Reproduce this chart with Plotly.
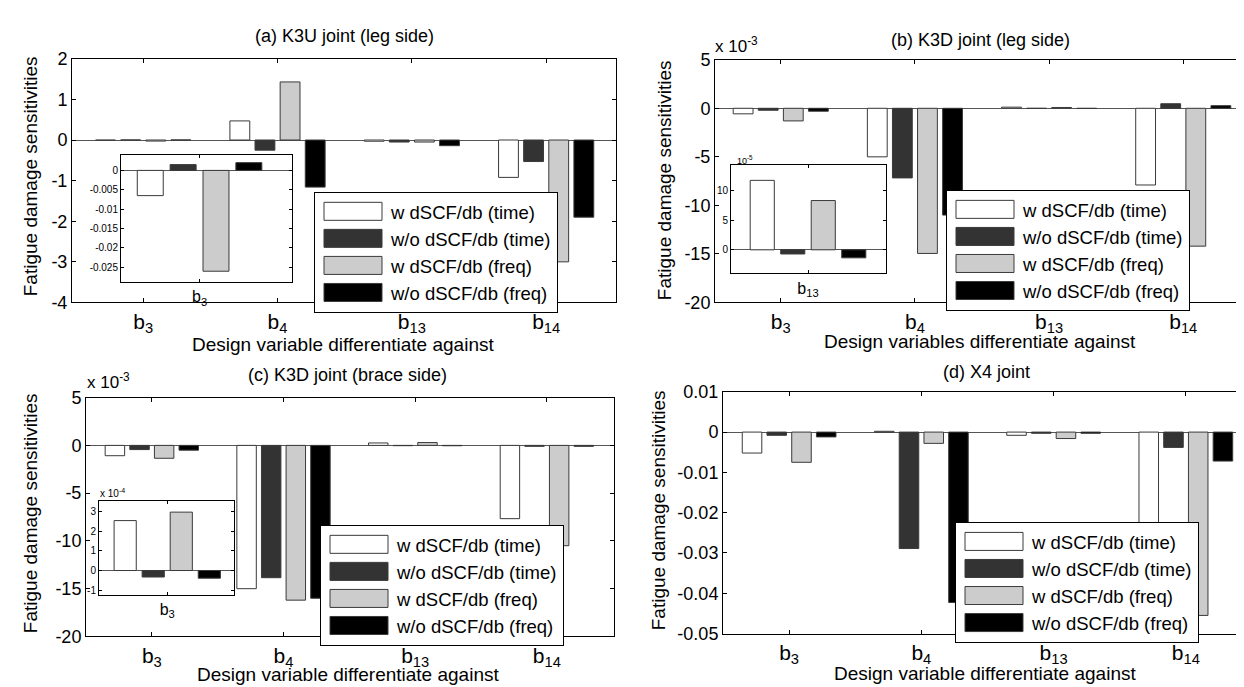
import plotly.graph_objects as go

W, H = 1244, 687
FONT = "Liberation Sans, Arial, Helvetica, sans-serif"

# ---------------- data ----------------
categories = ["b3", "b4", "b13", "b14"]
cat_labels = ["b<sub>3</sub>", "b<sub>4</sub>", "b<sub>13</sub>", "b<sub>14</sub>"]
series_names = ["w dSCF/db (time)", "w/o dSCF/db (time)", "w dSCF/db (freq)", "w/o dSCF/db (freq)"]
series_colors = ["#ffffff", "#333333", "#cccccc", "#000000"]

# (a) K3U joint (leg side)
a_w_time = [-0.0065, 0.47, -0.03, -0.92]
a_wo_time = [0.0015, -0.25, -0.05, -0.53]
a_w_freq = [-0.026, 1.43, -0.05, -3.0]
a_wo_freq = [0.002, -1.16, -0.14, -1.9]

# (b) K3D joint (leg side), in units of 1e-3
b_w_time = [-0.57, -5.0, 0.117, -7.9]
b_wo_time = [-0.2, -7.17, -0.007, 0.47]
b_w_freq = [-1.3, -14.95, 0.083, -14.2]
b_wo_freq = [-0.3, -11.0, -0.0135, 0.27]

# (c) K3D joint (brace side), in units of 1e-3
c_w_time = [-1.08, -15.0, 0.254, -7.67]
c_wo_time = [-0.44, -13.85, -0.033, -0.1]
c_w_freq = [-1.35, -16.2, 0.297, -10.5]
c_wo_freq = [-0.5, -16.0, -0.039, -0.1]

# (d) X4 joint
d_w_time = [-0.0052, 0.0002, -0.0008, -0.0227]
d_wo_time = [-0.0008, -0.0289, -0.0003, -0.0038]
d_w_freq = [-0.0075, -0.0028, -0.0016, -0.0455]
d_wo_freq = [-0.0012, -0.0423, -0.0003, -0.0072]

# y tick labels
a_ticks = [2, 1, 0, -1, -2, -3, -4]
bc_ticks = [5, 0, -5, -10, -15, -20]
d_ticks = [0.01, 0, -0.01, -0.02, -0.03, -0.04, -0.05]
d_ticktext = ["0.01", "0", "-0.01", "-0.02", "-0.03", "-0.04", "-0.05"]
ia_ticks = [0, -0.005, -0.01, -0.015, -0.02, -0.025]
ia_ticktext = ["0", "-0.005", "-0.01", "-0.015", "-0.02", "-0.025"]
ib_ticks = [0, 5, 10]
ic_ticks = [-1, 0, 1, 2, 3]

# ---------------- helpers ----------------
def xd(x0, x1):
    return [x0 / W, x1 / W]

def yd(y0, y1):
    return [1 - y1 / H, 1 - y0 / H]

def lab(v):
    return "%g" % v

fig = go.Figure()

panels = [
    (1, [a_w_time, a_wo_time, a_w_freq, a_wo_freq], "legend"),
    (2, [b_w_time, b_wo_time, b_w_freq, b_wo_freq], "legend2"),
    (3, [c_w_time, c_wo_time, c_w_freq, c_wo_freq], "legend3"),
    (4, [d_w_time, d_wo_time, d_w_freq, d_wo_freq], "legend4"),
]
for n, series, leg in panels:
    sfx = "" if n == 1 else str(n)
    for name, vals, col in zip(series_names, series, series_colors):
        fig.add_trace(go.Bar(
            x=categories, y=vals, name=name,
            marker=dict(color=col, line=dict(color="#3a3a3a", width=1)),
            xaxis="x" + sfx, yaxis="y" + sfx,
            legend=leg, showlegend=True, hoverinfo="skip",
        ))

# insets: (a) b3 group, (b) b13 group (x1e-5), (c) b13 group (x1e-4, labelled b3)
insets = [
    (5, [s[0] for s in (a_w_time, a_wo_time, a_w_freq, a_wo_freq)], ["b3"]),
    (6, [s[2] * 100 for s in (b_w_time, b_wo_time, b_w_freq, b_wo_freq)], ["b13"]),
    (7, [s[2] * 10 for s in (c_w_time, c_wo_time, c_w_freq, c_wo_freq)], ["b3"]),
]
for n, vals, cat in insets:
    for name, v, col in zip(series_names, vals, series_colors):
        fig.add_trace(go.Bar(
            x=cat, y=[v], name=name,
            marker=dict(color=col, line=dict(color="#3a3a3a", width=1)),
            xaxis="x%d" % n, yaxis="y%d" % n,
            showlegend=False, hoverinfo="skip",
        ))

axis_common = dict(
    showline=True, linecolor="black", linewidth=1, mirror="ticks",
    ticks="inside", ticklen=4, tickcolor="black", showgrid=False,
    tickfont=dict(family=FONT, color="black"),
)

main_boxes = {1: (64, 608, 42, 293), 2: (707, 1241, 43, 293),
              3: (78, 606, 391, 637), 4: (715, 1240, 385, 634)}
main_xr = {1: [-0.53, 3.52], 2: [-0.49, 3.49], 3: [-0.5, 3.51], 4: [-0.5, 3.47]}
main_y = {
    1: ([-4, 2], a_ticks, [lab(t) for t in a_ticks]),
    2: ([-20, 5], bc_ticks, [lab(t) for t in bc_ticks]),
    3: ([-20, 5], bc_ticks, [lab(t) for t in bc_ticks]),
    4: ([-0.05, 0.01], d_ticks, d_ticktext),
}

layout = dict(
    width=W, height=H, margin=dict(l=0, r=0, t=0, b=0),
    paper_bgcolor="white", plot_bgcolor="white",
    barmode="group", bargap=0.252, bargroupgap=0.21,
    font=dict(family=FONT, color="black"),
    showlegend=True,
)

for n, (x0, x1, y0, y1) in main_boxes.items():
    sfx = "" if n == 1 else str(n)
    rng, tv, tt = main_y[n]
    layout["xaxis" + sfx] = dict(axis_common, domain=xd(x0, x1), anchor="y" + sfx,
                                 range=main_xr[n], type="category",
                                 tickvals=categories, ticktext=cat_labels,
                                 tickfont=dict(family=FONT, size=21, color="black"),
                                 zeroline=False)
    layout["yaxis" + sfx] = dict(axis_common, domain=yd(y0, y1), anchor="x" + sfx,
                                 range=rng, tickvals=tv, ticktext=tt,
                                 tickfont=dict(family=FONT, size=18, color="black"),
                                 zeroline=True, zerolinecolor="#555555", zerolinewidth=1)

inset_boxes = {5: (113, 284, 141, 272), 6: (723, 878, 151, 263), 7: (91, 226, 497, 594)}
inset_xr = {5: [-0.447, 0.526], 6: [-0.472, 0.478], 7: [-0.455, 0.445]}
inset_y = {
    5: ([-0.0288, 0.004], ia_ticks, ia_ticktext),
    6: ([-3.96, 14.35], ib_ticks, [lab(t) for t in ib_ticks]),
    7: ([-1.23, 3.56], ic_ticks, [lab(t) for t in ic_ticks]),
}
inset_lab = {5: "b<sub>3</sub>", 6: "b<sub>13</sub>", 7: "b<sub>3</sub>"}
for n, (x0, x1, y0, y1) in inset_boxes.items():
    rng, tv, tt = inset_y[n]
    cat = insets[n - 5][2]
    layout["xaxis%d" % n] = dict(axis_common, domain=xd(x0, x1), anchor="y%d" % n,
                                 range=inset_xr[n], type="category",
                                 tickvals=cat, ticktext=[inset_lab[n]],
                                 tickfont=dict(family=FONT, size=16, color="black"),
                                 ticklen=3, zeroline=False)
    layout["yaxis%d" % n] = dict(axis_common, domain=yd(y0, y1), anchor="x%d" % n,
                                 range=rng, tickvals=tv, ticktext=tt,
                                 tickfont=dict(family=FONT, size=10, color="black"),
                                 ticklen=3,
                                 zeroline=True, zerolinecolor="#555555", zerolinewidth=1)

leg_pos = {"legend": (306, 179), "legend2": (938, 177), "legend3": (312, 522), "legend4": (947, 519)}
for key, (lx, ly) in leg_pos.items():
    layout[key] = dict(x=lx / W, y=1 - ly / H, xanchor="left", yanchor="top",
                       xref="paper", yref="paper",
                       bgcolor="white", bordercolor="black", borderwidth=1,
                       font=dict(family=FONT, size=18.5, color="black"),
                       itemwidth=66, tracegroupgap=0, traceorder="normal")

fig.update_layout(**layout)

def ann(text, x, y, size, angle=0, xanchor="center"):
    fig.add_annotation(text=text, x=x / W, y=1 - y / H, xref="paper", yref="paper",
                       showarrow=False, xanchor=xanchor, yanchor="middle",
                       textangle=angle, font=dict(family=FONT, size=size, color="black"))

titles = [("(a) K3U joint (leg side)", 336, 19), ("(b) K3D joint (leg side)", 972, 23),
          ("(c) K3D joint (brace side)", 339, 368), ("(d) X4 joint", 978, 365)]
for t, x, y in titles:
    ann(t, x, y, 18)

xtitles = [("Design variable differentiate against", 335, 336),
           ("Design variables differentiate against", 972, 333),
           ("Design variable differentiate against", 340, 676),
           ("Design variable differentiate against", 977, 675)]
for t, x, y in xtitles:
    ann(t, x, y, 19)

ytitles = [(22, 163), (656, 167), (22, 510), (650, 507)]
for x, y in ytitles:
    ann("Fatigue damage sensitivities", x, y, 19, angle=-90)

ann("x 10<sup>-3</sup>", 705, 28, 17, xanchor="left")
ann("x 10<sup>-3</sup>", 77, 374, 17, xanchor="left")
ann("10<sup>-5</sup>", 727, 146, 9, xanchor="left")
ann("x 10<sup>-4</sup>", 90, 489, 10, xanchor="left")

post = """
var gd = document.getElementById('{plot_id}');
function fixLegend(){
  var ps = gd.querySelectorAll('g.legendpoints path');
  for (var i = 0; i < ps.length; i++) {
    var d = ps[i].getAttribute('d') || '';
    if (d !== 'M29,9H-29V-9H29Z') { ps[i].setAttribute('d', 'M29,9H-29V-9H29Z'); }
  }
}
fixLegend();
if (gd.on) { gd.on('plotly_afterplot', fixLegend); }
[0, 20, 100, 300, 800, 1500].forEach(function(t){ setTimeout(fixLegend, t); });
"""
fig.write_html("out.html", config={"displayModeBar": False}, post_script=post)
